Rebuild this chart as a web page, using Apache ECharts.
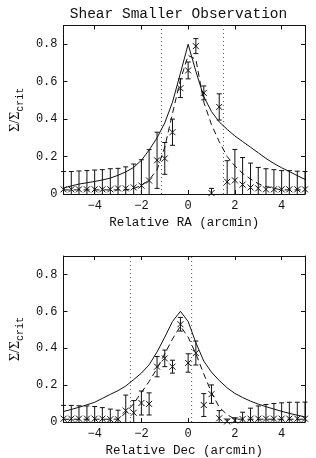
<!DOCTYPE html>
<html><head><meta charset="utf-8">
<script src="https://cdn.jsdelivr.net/npm/echarts@6/dist/echarts.min.js"></script>
<style>html,body{margin:0;padding:0;background:#fff}#c{width:316px;height:458px}</style>
</head><body><div id="c"></div>
<script>
// Sample positions (arcmin)
const xPos = [-5.33,-5.00,-4.67,-4.33,-4.00,-3.67,-3.33,-3.00,-2.67,-2.33,-2.00,-1.67,-1.33,-1.00,-0.67,-0.33,0.00,0.33,0.67,1.00,1.33,1.67,2.00,2.33,2.67,3.00,3.33,3.67,4.00,4.33,4.67,5.00];

// Top panel: Relative RA
const raObs = [0.025,0.025,0.025,0.025,0.025,0.025,0.025,0.030,0.030,0.035,0.045,0.072,0.180,0.190,0.330,0.565,0.660,0.790,0.540,0.005,0.465,0.065,0.073,0.050,0.035,0.030,0.025,0.025,0.025,0.025,0.025,0.025];
const raErr = [0.095,0.095,0.098,0.100,0.103,0.105,0.110,0.107,0.115,0.125,0.138,0.165,0.150,0.085,0.070,0.050,0.045,0.040,0.037,0.025,0.070,0.113,0.165,0.145,0.130,0.112,0.110,0.105,0.100,0.100,0.097,0.095];
const raModel = [0.032,0.043,0.053,0.060,0.067,0.075,0.085,0.100,0.118,0.142,0.180,0.235,0.300,0.380,0.490,0.645,0.800,0.655,0.520,0.440,0.385,0.345,0.310,0.280,0.250,0.220,0.190,0.163,0.140,0.120,0.098,0.078];
const raFit = [0.022,0.022,0.022,0.022,0.022,0.022,0.022,0.022,0.022,0.030,0.045,0.075,0.130,0.250,0.430,0.610,0.740,0.720,0.490,0.370,0.280,0.200,0.150,0.110,0.080,0.055,0.040,0.030,0.022,0.022,0.022,0.022];
const raLimits = [-1.14, 1.51];

// Bottom panel: Relative Dec
const decObs = [0.018,0.018,0.018,0.018,0.018,0.018,0.015,0.015,0.062,0.050,0.103,0.098,0.300,0.345,0.300,0.530,0.320,0.374,0.092,0.151,0.020,0.003,0.008,0.016,0.018,0.018,0.018,0.018,0.018,0.018,0.018,0.018];
const decErr = [0.072,0.072,0.070,0.069,0.066,0.060,0.055,0.049,0.084,0.066,0.065,0.060,0.055,0.045,0.035,0.037,0.050,0.065,0.062,0.050,0.042,0.013,0.015,0.037,0.057,0.069,0.077,0.082,0.086,0.089,0.089,0.090];
const decModel = [0.057,0.068,0.080,0.093,0.107,0.128,0.150,0.170,0.195,0.230,0.265,0.310,0.380,0.460,0.545,0.600,0.545,0.430,0.330,0.270,0.225,0.185,0.155,0.133,0.113,0.097,0.083,0.070,0.058,0.047,0.037,0.027];
const decFit = [0.015,0.015,0.015,0.015,0.015,0.015,0.015,0.015,0.050,0.100,0.160,0.220,0.290,0.370,0.450,0.520,0.460,0.370,0.260,0.160,0.080,0.040,0.015,0.015,0.015,0.015,0.015,0.015,0.015,0.015,0.015,0.015];
const decLimits = [-2.47, 0.15];

const xTicks = [-4, -2, 0, 2, 4];
const yTicks = [0, 0.2, 0.4, 0.6, 0.8];
const xMin = -5.333, xMax = 5;
const yMin = 0, yMax = 0.9;

const title = 'Shear Smaller Observation';
const xNames = ['Relative RA (arcmin)', 'Relative Dec (arcmin)'];

const MONO = '"Liberation Mono", "Courier New", monospace';
const INK = '#111';

function pairs(xs, ys) { return xs.map((x, i) => [x, ys[i]]); }

function errRender(params, api) {
  const x = api.value(0), y = api.value(1), e = api.value(2);
  const lo = Math.max(y - e, 0), hi = y + e;
  const pt = api.coord([x, hi]), pb = api.coord([x, lo]), p = api.coord([x, y]);
  const st = { stroke: INK, lineWidth: 1, fill: null };
  const cap = 2.5, m = 3;
  const ch = [
    { type: 'line', shape: { x1: pt[0], y1: pt[1], x2: pb[0], y2: pb[1] }, style: st },
    { type: 'line', shape: { x1: pt[0] - cap, y1: pt[1], x2: pt[0] + cap, y2: pt[1] }, style: st },
    { type: 'line', shape: { x1: p[0] - m, y1: p[1] - m, x2: p[0] + m, y2: p[1] + m }, style: st },
    { type: 'line', shape: { x1: p[0] - m, y1: p[1] + m, x2: p[0] + m, y2: p[1] - m }, style: st }
  ];
  if (y - e > 0) ch.push({ type: 'line', shape: { x1: pb[0] - cap, y1: pb[1], x2: pb[0] + cap, y2: pb[1] }, style: st });
  return { type: 'group', children: ch };
}

const grids = [
  { left: 52, right: 11, top: 25.5, height: 168.5 },
  { left: 52, right: 11, top: 256, height: 167.5 }
];

const xAxes = [], yAxes = [];
[0, 1].forEach(g => {
  const lineStyle = { color: INK, width: 1 };
  xAxes.push({
    type: 'value', gridIndex: g, min: xMin, max: xMax, position: 'bottom',
    name: xNames[g], nameLocation: 'middle', nameGap: 22,
    nameTextStyle: { fontFamily: MONO, fontSize: 12.5, color: INK },
    axisLine: { show: true, onZero: false, lineStyle },
    axisTick: { show: true, inside: true, length: 4, customValues: xTicks, lineStyle },
    axisLabel: { show: true, customValues: xTicks, margin: 6, fontFamily: MONO, fontSize: 12, color: INK,
      formatter: v => String(v).replace('-', '\u2212') },
    splitLine: { show: false }
  });
  xAxes.push({
    type: 'value', gridIndex: g, min: xMin, max: xMax, position: 'top',
    axisLine: { show: true, onZero: false, lineStyle },
    axisTick: { show: true, inside: true, length: 4, customValues: xTicks, lineStyle },
    axisLabel: { show: false }, splitLine: { show: false }
  });
  yAxes.push({
    type: 'value', gridIndex: g, min: yMin, max: yMax, position: 'left',
    name: '{a|\u03A3/\u03A3}{b|crit}', nameLocation: 'middle', nameGap: 34, nameRotate: 90,
    nameTextStyle: {
      rich: {
        a: { fontFamily: '"Liberation Serif", serif', fontSize: 14, color: INK, lineHeight: 20, verticalAlign: 'middle' },
        b: { fontFamily: MONO, fontSize: 10, color: INK, lineHeight: 20, verticalAlign: 'bottom', padding: [6, 0, 0, 0] }
      }
    },
    axisLine: { show: true, onZero: false, lineStyle },
    axisTick: { show: true, inside: true, length: 4, customValues: yTicks, lineStyle },
    axisLabel: { show: true, customValues: yTicks, margin: 6, fontFamily: MONO, fontSize: 12, color: INK,
      formatter: v => (v === 0 ? '0' : v.toFixed(1)) },
    splitLine: { show: false }
  });
  yAxes.push({
    type: 'value', gridIndex: g, min: yMin, max: yMax, position: 'right',
    axisLine: { show: true, onZero: false, lineStyle },
    axisTick: { show: true, inside: true, length: 4, customValues: yTicks, lineStyle },
    axisLabel: { show: false }, splitLine: { show: false }
  });
});

const series = [];
function addPanel(g, obs, err, model, fit, limits) {
  const xi = g * 2, yi = g * 2;
  limits.forEach(l => series.push({
    type: 'line', xAxisIndex: xi, yAxisIndex: yi, data: [[l, yMin], [l, yMax]],
    showSymbol: false, silent: true, lineStyle: { color: '#555', width: 1, type: [1, 3] }
  }));
  series.push({
    type: 'line', xAxisIndex: xi, yAxisIndex: yi, data: pairs(xPos, model),
    showSymbol: false, silent: true, lineStyle: { color: INK, width: 1 }
  });
  series.push({
    type: 'line', xAxisIndex: xi, yAxisIndex: yi, data: pairs(xPos, fit),
    showSymbol: false, silent: true, lineStyle: { color: INK, width: 1, type: [6, 4] }
  });
  series.push({
    type: 'custom', xAxisIndex: xi, yAxisIndex: yi, renderItem: errRender,
    data: xPos.map((x, i) => [x, obs[i], err[i]]), encode: { x: 0, y: 1 }, silent: true
  });
}
addPanel(0, raObs, raErr, raModel, raFit, raLimits);
addPanel(1, decObs, decErr, decModel, decFit, decLimits);

const chart = echarts.init(document.getElementById('c'), null, { renderer: 'canvas' });
chart.setOption({
  animation: false,
  backgroundColor: '#fff',
  grid: grids,
  xAxis: xAxes,
  yAxis: yAxes,
  graphic: [{
    type: 'text', x: 178.5, y: 14, silent: true,
    style: { text: title, fontFamily: MONO, fontSize: 14.5, fill: INK, align: 'center', verticalAlign: 'middle' }
  }],
  series
});
</script></body></html>
